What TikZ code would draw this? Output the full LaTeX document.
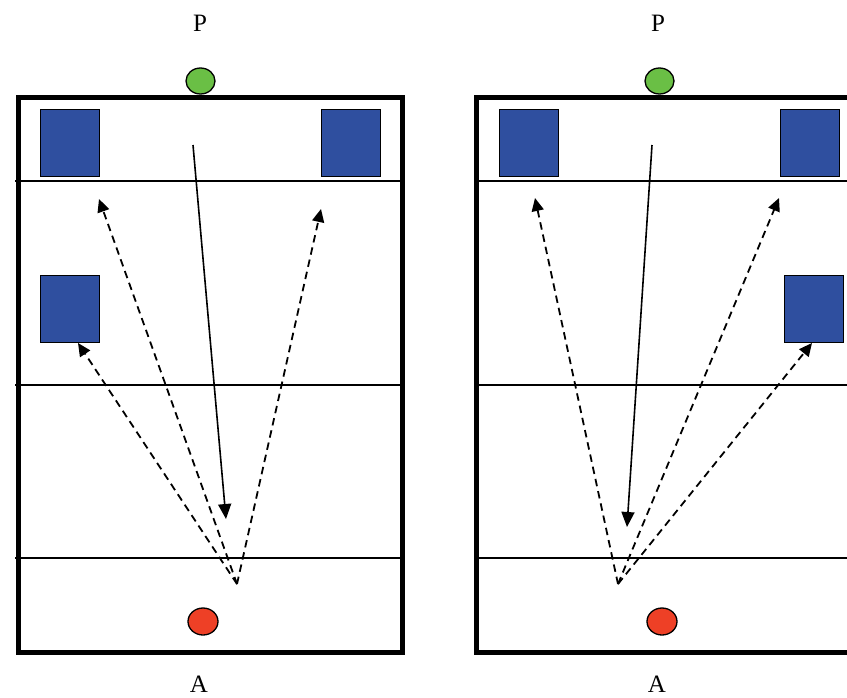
\documentclass[tikz,border=0pt]{standalone}
\usepackage{fontspec}
\setmainfont{Liberation Serif}
\usetikzlibrary{arrows.meta,shapes.geometric}
\definecolor{boxblue}{HTML}{2F4F9F}
\definecolor{pgreen}{HTML}{6ABF45}
\definecolor{ared}{HTML}{EE4026}
\begin{document}
\begin{tikzpicture}[x=1pt,y=-1pt,
  court/.style={line width=5pt},
  zone/.style={line width=1.8pt},
  cone/.style={draw=black,line width=1.4pt,fill=boxblue,minimum width=59pt,minimum height=67pt,inner sep=0pt,anchor=north west},
  pball/.style={ellipse,draw=black,line width=1.3pt,fill=pgreen,minimum width=29pt,minimum height=26pt,inner sep=0pt},
  aball/.style={ellipse,draw=black,line width=1.3pt,fill=ared,minimum width=30pt,minimum height=27pt,inner sep=0pt},
  lab/.style={font=\fontsize{25}{25}\selectfont,anchor=base,inner sep=0pt},
  pass/.style={line width=1.6pt,-{Triangle[length=15pt,width=13pt]}},
  run/.style={line width=1.8pt,dash pattern=on 7.5pt off 5pt,-{Triangle[length=13pt,width=12pt]}}]
\useasboundingbox (0,0) rectangle (847,697);
\fill[white] (0,0) rectangle (847,697);
% ---------- left court ----------
\draw[zone] (15,181) -- (405,181);
\draw[zone] (15,385) -- (405,385);
\draw[zone] (15,558) -- (405,558);
\draw[court] (18.5,97.5) rectangle (402.5,652.5);
\node[pball] (pL) at (200.5,81) {};
\node[aball] (aL) at (203,621.5) {};
\node[cone] (c1) at (40,108.5) {};
\node[cone] (c2) at (321,108.5) {};
\node[cone] (c3) at (40,274.5) {};
\node[lab] (PL) at (200,31.5) {P};
\node[lab] (AL) at (199,692) {A};
\coordinate (sL) at (193,145);
\coordinate (eL) at (226,519);
\coordinate (oL) at (237,584);
\coordinate (t1) at (99,199);
\coordinate (t2) at (321,209);
\coordinate (t3) at (78,343);
\draw[pass] (sL) -- (eL);
\draw[run] (oL) -- (t1);
\draw[run] (oL) -- (t2);
\draw[run] (oL) -- (t3);
% ---------- right court ----------
\draw[zone] (474,181) -- (850,181);
\draw[zone] (474,385) -- (850,385);
\draw[zone] (474,558) -- (850,558);
\draw[court] (476.5,97.5) rectangle (865,652.5);
\node[pball] (pR) at (659.5,81) {};
\node[aball] (aR) at (662,621.5) {};
\node[cone] (c4) at (498.5,108.5) {};
\node[cone] (c5) at (779.5,108.5) {};
\node[cone] (c6) at (783.5,274.5) {};
\node[lab] (PR) at (658,31.5) {P};
\node[lab] (AR) at (657,692) {A};
\coordinate (sR) at (652,145);
\coordinate (eR) at (627,527);
\coordinate (oR) at (618,584);
\coordinate (t4) at (535,198);
\coordinate (t5) at (779,198);
\coordinate (t6) at (812,343);
\draw[pass] (sR) -- (eR);
\draw[run] (oR) -- (t4);
\draw[run] (oR) -- (t5);
\draw[run] (oR) -- (t6);
\end{tikzpicture}
\end{document}
